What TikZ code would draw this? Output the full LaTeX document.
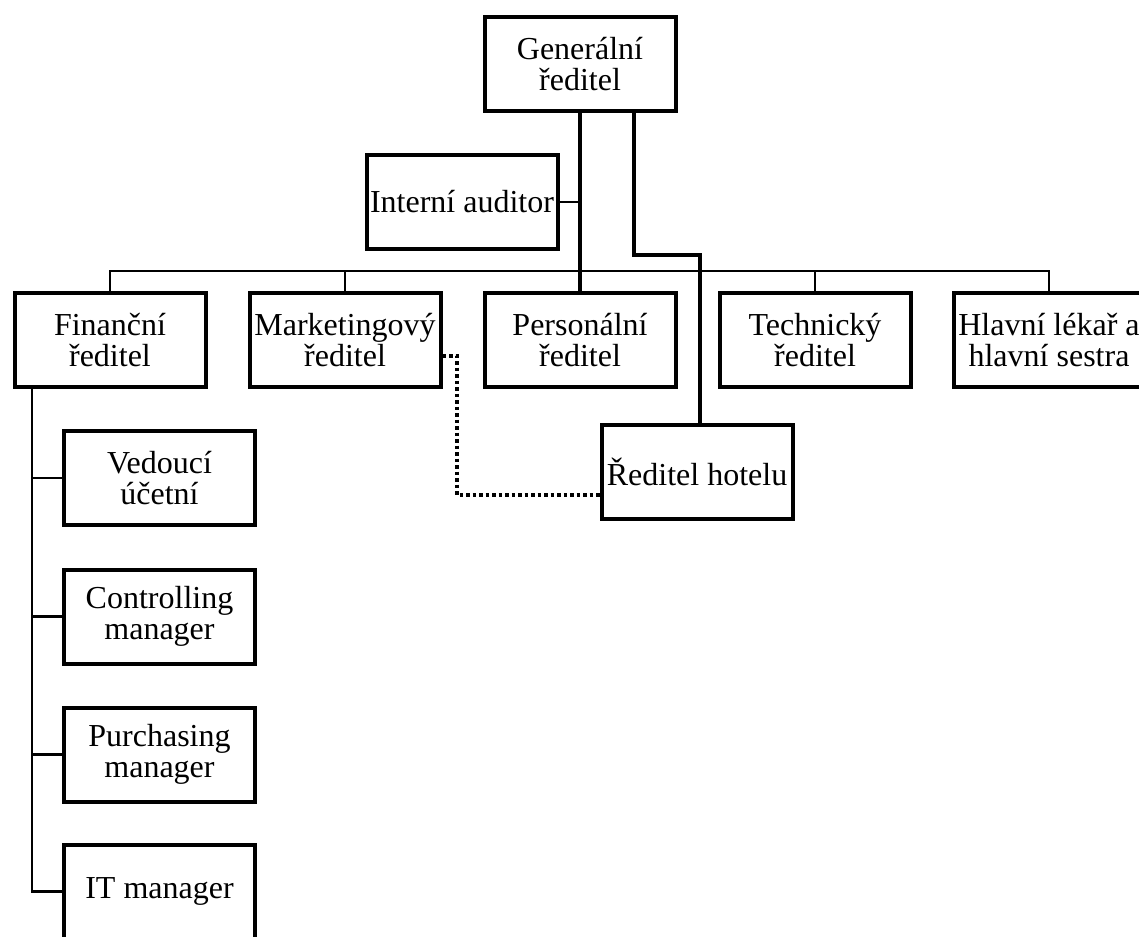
\documentclass[tikz,border=0pt]{standalone}
\usepackage{fontspec}
\setmainfont{Liberation Serif}
\begin{document}
\begin{tikzpicture}[x=1pt,y=-1pt,
  box/.style={draw,line width=4pt,minimum width=191pt,minimum height=94pt,inner sep=0pt,align=center,
    font=\fontsize{32}{31}\selectfont},
  conn/.style={line width=2.7pt},
  mainconn/.style={line width=3.2pt},
  dotline/.style={line width=3.5pt,dash pattern=on 3.5pt off 3pt}]
\clip (0,0) rectangle (1139,936);
\fill[white] (0,0) rectangle (1139,936);
% nodes
\node[box] (gen) at (580,64.5) {Generální\\ředitel};
\node[box] (aud) at (462,202) {Interní auditor};
\node[box] (fin) at (110,340) {Finanční\\ředitel};
\node[box] (mkt) at (345,340) {Marketingový\\ředitel};
\node[box] (per) at (580,340) {Personální\\ředitel};
\node[box] (tech) at (815,340) {Technický\\ředitel};
\node[box] (hla) at (1049,340) {Hlavní lékař a\\hlavní sestra};
\node[box] (hotel) at (697,472) {Ředitel hotelu};
\node[box] (ved) at (159.5,478) {Vedoucí\\účetní};
\node[box] (ctrl) at (159.5,616.5) {Controlling\\manager};
\node[box] (pur) at (159.5,754.5) {Purchasing\\manager};
\node[box] (it) at (159.5,891.5) {IT manager};
% coordinates
\coordinate (busR) at (1049,271);
\coordinate (g2) at ([xshift=54pt]gen.south);
\coordinate (hk) at (700,255);
\coordinate (d1) at (457,356);
\coordinate (d2) at (457,495);
\coordinate (f1) at (32,0);
% connectors
\draw[conn] (fin.north) |- (busR) -- (hla.north);
\draw[conn] (mkt.north) -- (mkt.north |- busR);
\draw[conn] (tech.north) -- (tech.north |- busR);
\draw[mainconn] (gen.south) -- (per.north);
\draw[conn] (aud.east) -- (aud.east -| gen.south);
\draw[mainconn] (g2) |- (hk) -- (hk |- hotel.north);
\draw[dotline] (mkt.east |- d1) -- (d1) -- (d2) -- (d2 -| hotel.west);
\draw[conn] (fin.south -| f1) |- (it.west);
\draw[conn] (ved.west -| f1) -- (ved.west);
\draw[conn] (ctrl.west -| f1) -- (ctrl.west);
\draw[conn] (pur.west -| f1) -- (pur.west);
\end{tikzpicture}
\end{document}
